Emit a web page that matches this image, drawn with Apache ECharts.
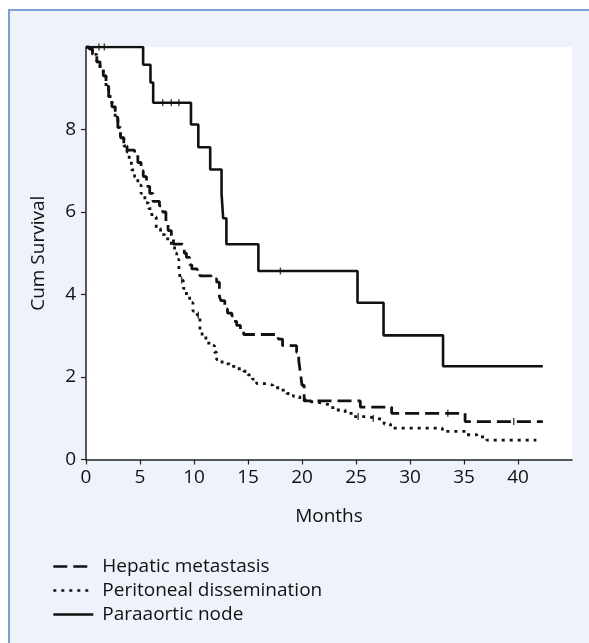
<!DOCTYPE html>
<html>
<head>
<meta charset="utf-8">
<script src="https://cdn.jsdelivr.net/npm/echarts@6.0.0/dist/echarts.min.js"></script>
<style>
  html, body { margin: 0; padding: 0; background: #ffffff; }
  #panel { position: absolute; left: 8px; top: 9px; width: 700px; height: 700px;
           background: #eef2fa; border-left: 2px solid #7d9ed2; border-top: 2px solid #7d9ed2; }
  #chart { position: absolute; left: 0; top: 0; width: 589px; height: 643px; }
</style>
</head>
<body>
<div id="panel"></div>
<div id="chart"></div>
<script>
// ---- data (months, cumulative survival) ----
const xTicks = [0, 5, 10, 15, 20, 25, 30, 35, 40];
const yTicks = [0, 2, 4, 6, 8];
const seriesNames = ['Hepatic metastasis', 'Peritoneal dissemination', 'Paraaortic node'];

const hepatic = [
  [0,10],[0.3,9.95],[0.6,9.82],[1.0,9.64],[1.3,9.48],[1.6,9.3],[1.85,9.05],[2.1,8.8],[2.4,8.55],
  [2.7,8.3],[2.95,8.05],[3.2,7.8],[3.5,7.6],[3.8,7.5],[4.5,7.38],[4.8,7.2],[5.1,7.0],[5.3,6.86],
  [5.6,6.62],[5.9,6.45],[6.2,6.26],[6.8,6.15],[7.1,6.0],[7.4,5.72],[7.6,5.55],[7.9,5.35],[8.1,5.22],
  [8.9,5.18],[9.1,5.0],[9.3,4.9],[9.6,4.72],[9.8,4.62],[10.3,4.55],[10.55,4.45],[11.6,4.38],[12.1,4.3],
  [12.35,3.95],[12.5,3.85],[12.85,3.65],[13.1,3.55],[13.5,3.48],[13.7,3.35],[13.95,3.25],[14.3,3.12],
  [14.6,3.03],[17.8,2.92],[18.2,2.76],[19.5,2.6],[19.7,2.4],[19.85,2.1],[20.0,1.8],[20.2,1.42],
  [25.4,1.27],[28.3,1.12],[35.1,0.92],[42.3,0.92]
];
const peritoneal = [
  [0,10],[0.3,9.95],[0.6,9.82],[1.0,9.64],[1.3,9.48],[1.6,9.3],[1.85,9.05],[2.1,8.8],[2.4,8.55],
  [2.7,8.3],[2.95,8.05],[3.2,7.8],[3.5,7.6],[3.8,7.45],[4.0,7.25],[4.2,7.02],[4.5,6.85],[4.8,6.65],
  [5.1,6.45],[5.45,6.22],[5.8,6.08],[6.1,5.88],[6.5,5.6],[6.9,5.45],[7.3,5.35],[7.9,5.2],[8.2,5.0],
  [8.4,4.85],[8.6,4.6],[8.75,4.35],[9.0,4.15],[9.3,3.95],[9.6,3.8],[9.9,3.6],[10.3,3.5],[10.55,3.15],
  [10.75,2.98],[11.1,2.82],[11.7,2.76],[11.9,2.6],[12.1,2.42],[12.6,2.32],[13.3,2.26],[14.0,2.2],
  [14.6,2.14],[15.0,2.05],[15.4,1.95],[15.8,1.84],[16.8,1.8],[17.3,1.74],[18.0,1.68],[18.6,1.6],
  [19.2,1.53],[19.8,1.46],[20.3,1.4],[21.2,1.36],[22.0,1.32],[22.6,1.26],[23.2,1.2],[24.0,1.12],
  [24.8,1.04],[26.0,1.0],[26.9,0.96],[27.6,0.86],[28.2,0.76],[33.0,0.68],[35.2,0.6],[36.2,0.55],
  [37.1,0.47],[41.7,0.47]
];
const paraaortic = [
  [0,10],[5.29,9.57],[5.97,9.14],[6.22,8.65],[9.72,8.12],[10.4,7.57],[11.5,7.03],[12.55,6.45],
  [12.7,5.85],[13.0,5.22],[15.96,4.57],[25.14,3.8],[27.55,3.01],[33.06,2.26],[42.3,2.26]
];
// censored observations (tick marks)
const censorHepatic = [[33.5,1.12],[39.6,0.92]];
const censorPeritoneal = [[8.85,4.35],[10.4,3.5],[25.2,1.04],[26.6,1.0]];
const censorParaaortic = [[1.2,10],[1.7,10],[7.1,8.65],[7.9,8.65],[8.6,8.65],[18.0,4.57]];

const FONT = 'Open Sans';
const INK = '#111111';

const lineSeries = (name, data, type, width) => ({
  name, type: 'line', data, step: 'end', symbol: 'none', animation: false,
  lineStyle: { color: INK, width, type },
  itemStyle: { color: INK },
  z: 3
});
const censorSeries = (data) => ({
  type: 'scatter', data, symbol: 'rect', symbolSize: [1.4, 7], animation: false,
  itemStyle: { color: INK }, silent: true, z: 4
});

const chart = echarts.init(document.getElementById('chart'), null, { renderer: 'canvas' });
chart.setOption({
  backgroundColor: 'transparent',
  animation: false,
  grid: { left: 86, right: 17, top: 47, bottom: 183.5, show: true, backgroundColor: '#ffffff', borderWidth: 0, containLabel: false },
  xAxis: {
    type: 'value', min: 0, max: 45,
    name: 'Months', nameLocation: 'middle', nameGap: 48,
    nameTextStyle: { fontFamily: FONT, fontSize: 19, color: INK },
    axisLine: { show: true, lineStyle: { color: '#222', width: 1.5 } },
    axisTick: { show: true, length: 5, lineStyle: { color: '#222', width: 1.2 }, customValues: xTicks },
    axisLabel: { fontFamily: FONT, fontSize: 19, color: INK, margin: 9, customValues: xTicks },
    splitLine: { show: false }
  },
  yAxis: {
    type: 'value', min: 0, max: 10,
    name: 'Cum Survival', nameLocation: 'middle', nameGap: 38, nameRotate: 90,
    nameTextStyle: { fontFamily: FONT, fontSize: 19, color: INK },
    axisLine: { show: true, lineStyle: { color: '#222', width: 1.5 } },
    axisTick: { show: true, length: 5, lineStyle: { color: '#222', width: 1.2 }, customValues: yTicks },
    axisLabel: { fontFamily: FONT, fontSize: 19, color: INK, margin: 10, customValues: yTicks },
    splitLine: { show: false }
  },
  legend: {
    data: seriesNames, orient: 'vertical', left: 47, top: 552,
    itemWidth: 40, itemHeight: 14, itemGap: 5,
    itemStyle: { opacity: 0, borderWidth: 0 },
    lineStyle: { width: 2.6 },
    textStyle: { fontFamily: FONT, fontSize: 19, color: INK, padding: [0, 0, 0, 4] },
    selectedMode: false
  },
  series: [
    lineSeries(seriesNames[0], hepatic, [14, 6], 2.8),
    lineSeries(seriesNames[1], peritoneal, [3, 5], 2.8),
    lineSeries(seriesNames[2], paraaortic, 'solid', 2.6),
    censorSeries(censorHepatic),
    censorSeries(censorPeritoneal),
    censorSeries(censorParaaortic)
  ]
});
</script>
</body>
</html>
